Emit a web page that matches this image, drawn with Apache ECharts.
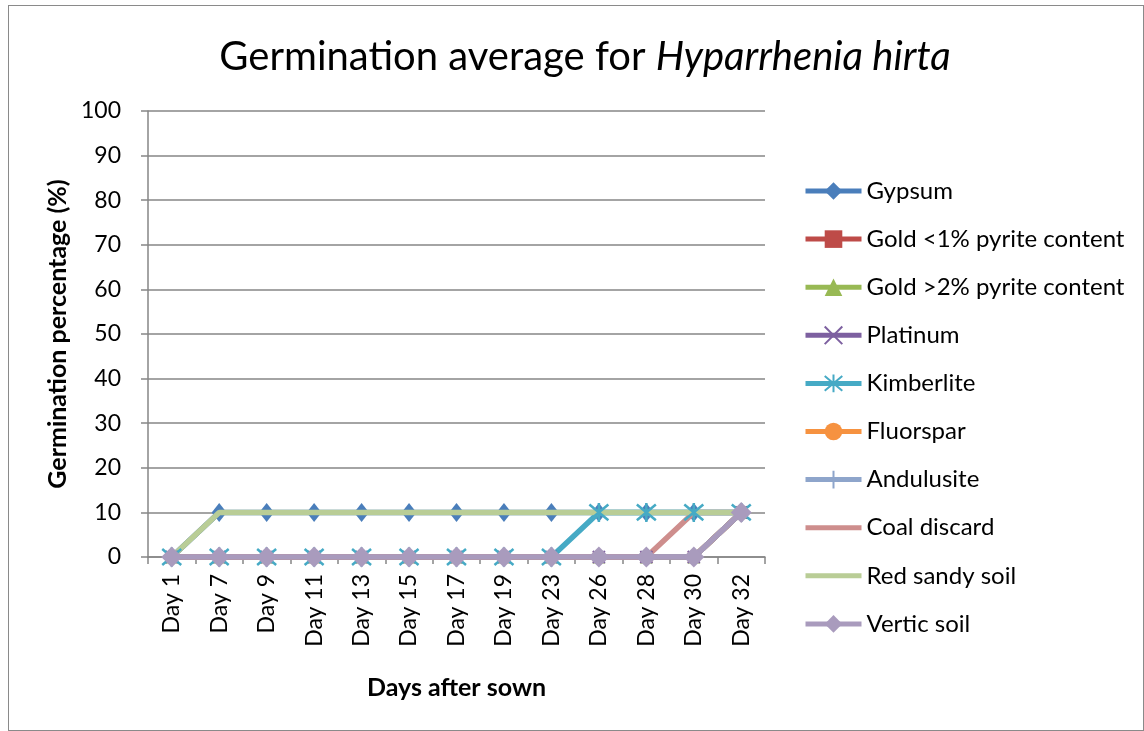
<!DOCTYPE html>
<html>
<head>
<meta charset="utf-8">
<script src="https://cdn.jsdelivr.net/npm/echarts@6/dist/echarts.min.js"></script>
<style>
  html, body { margin: 0; padding: 0; background: #fff; }
  #main { position: absolute; left: 8px; top: 5px; width: 1136px; height: 726px;
          border: 1px solid #8a8a8a; box-sizing: border-box; }
</style>
</head>
<body>
<div id="main"></div>
<script>
// categories
var days = ["Day 1", "Day 7", "Day 9", "Day 11", "Day 13", "Day 15", "Day 17",
            "Day 19", "Day 23", "Day 26", "Day 28", "Day 30", "Day 32"];

// germination % per substrate
var gypsum      = [0, 10, 10, 10, 10, 10, 10, 10, 10, 10, 10, 10, 10];
var goldLow     = [0, 0, 0, 0, 0, 0, 0, 0, 0, 0, 0, 0, 10];
var goldHigh    = [0, 0, 0, 0, 0, 0, 0, 0, 0, 0, 0, 0, 10];
var platinum    = [0, 0, 0, 0, 0, 0, 0, 0, 0, 0, 0, 0, 10];
var kimberlite  = [0, 0, 0, 0, 0, 0, 0, 0, 0, 10, 10, 10, 10];
var fluorspar   = [0, 0, 0, 0, 0, 0, 0, 0, 0, 0, 0, 0, 10];
var andulusite  = [0, 0, 0, 0, 0, 0, 0, 0, 0, 0, 0, 0, 10];
var coalDiscard = [0, 0, 0, 0, 0, 0, 0, 0, 0, 0, 0, 10, 10];
var redSandy    = [0, 10, 10, 10, 10, 10, 10, 10, 10, 10, 10, 10, 10];
var verticSoil  = [0, 0, 0, 0, 0, 0, 0, 0, 0, 0, 0, 0, 10];

var yTicks = [0, 10, 20, 30, 40, 50, 60, 70, 80, 90, 100];

var FONT = "Lato, 'Open Sans', sans-serif";

// stroked marker shapes (each with a real width and height)
var xPath = "path://M0,0 L10,10 M10,0 L0,10";
var starPath = "path://M0,0 L10,10 M10,0 L0,10 M5,-1 L5,11";
var plusPath = "path://M5,0 L5,10 M0,5 L10,5";

function mk(name, data, color, symbol, size, extra) {
  var s = {
    name: name,
    type: "line",
    data: data,
    symbol: symbol,
    symbolSize: size,
    lineStyle: { color: color, width: 5.5 },
    itemStyle: { color: color },
    emphasis: { disabled: true },
    animation: false
  };
  if (extra) {
    for (var k in extra) s[k] = extra[k];
  }
  return s;
}

var legendNames = ["Gypsum", "Gold <1% pyrite content", "Gold >2% pyrite content", "Platinum",
                   "Kimberlite", "Fluorspar", "Andulusite", "Coal discard", "Red sandy soil", "Vertic soil"];
var noMarker = ["Coal discard", "Red sandy soil"];

var myChart = echarts.init(document.getElementById("main"));
var option = {
  animation: false,
  title: {
    text: "Germination average for {i|Hyparrhenia hirta}",
    left: 571,
    top: 26,
    textAlign: "center",
    textStyle: {
      fontFamily: FONT,
      fontSize: 40,
      fontWeight: "normal",
      color: "#000",
      rich: {
        i: { fontFamily: FONT, fontSize: 40, fontStyle: "italic", color: "#000" }
      }
    }
  },
  grid: { left: 139, right: 378, top: 105, bottom: 173 },
  legend: {
    orient: "vertical",
    left: 789,
    top: 168,
    itemWidth: 56,
    itemHeight: 22,
    itemGap: 24.1,
    lineStyle: { width: 5 },
    textStyle: { fontFamily: FONT, fontSize: 24, color: "#000", lineHeight: 22 },
    data: legendNames.map(function (n) {
      return noMarker.indexOf(n) >= 0 ? { name: n, itemStyle: { opacity: 0 } } : { name: n };
    })
  },
  xAxis: {
    type: "category",
    data: days,
    boundaryGap: true,
    name: "Days after sown",
    nameLocation: "middle",
    nameGap: 118,
    nameTextStyle: { fontFamily: FONT, fontSize: 25, fontWeight: "bold", color: "#000" },
    axisLine: { lineStyle: { color: "#868686", width: 1.5 } },
    axisTick: { show: true, length: 7, lineStyle: { color: "#868686", width: 1.5 } },
    axisLabel: { rotate: 90, margin: 17, fontFamily: FONT, fontSize: 23, color: "#000" },
    splitLine: { show: false }
  },
  yAxis: {
    type: "value",
    min: yTicks[0],
    max: yTicks[yTicks.length - 1],
    interval: 10,
    name: "Germination percentage (%)",
    nameLocation: "middle",
    nameGap: 75,
    nameTextStyle: { fontFamily: FONT, fontSize: 25, fontWeight: "bold", color: "#000" },
    axisLine: { show: true, lineStyle: { color: "#868686", width: 1.5 } },
    axisTick: { show: true, length: 7, lineStyle: { color: "#868686", width: 1.5 } },
    axisLabel: { margin: 27, fontFamily: FONT, fontSize: 23, color: "#000" },
    splitLine: { lineStyle: { color: "#868686", width: 1.5 } }
  },
  series: [
    mk("Gypsum", gypsum, "#4A7EBB", "diamond", [15, 19], { z: 1 }),
    mk("Gold <1% pyrite content", goldLow, "#BE4B48", "rect", 12),
    mk("Gold >2% pyrite content", goldHigh, "#98B954", "triangle", 13),
    mk("Platinum", platinum, "#7D60A0", xPath, 12,
       { itemStyle: { color: "none", borderColor: "#7D60A0", borderWidth: 2 } }),
    mk("Kimberlite", kimberlite, "#46AAC5", starPath, 19,
       { itemStyle: { color: "none", borderColor: "#46AAC5", borderWidth: 2.5 } }),
    mk("Fluorspar", fluorspar, "#F69240", "circle", 12),
    mk("Andulusite", andulusite, "#8EA5CB", plusPath, 14,
       { itemStyle: { color: "none", borderColor: "#8EA5CB", borderWidth: 2 } }),
    mk("Coal discard", coalDiscard, "#CE8E8D", "none", 10),
    mk("Red sandy soil", redSandy, "#B9CD96", "none", 10, { z: 3 }),
    mk("Vertic soil", verticSoil, "#A99BBD", "diamond", 21, { z: 4 })
  ]
};
myChart.setOption(option);
</script>
</body>
</html>
